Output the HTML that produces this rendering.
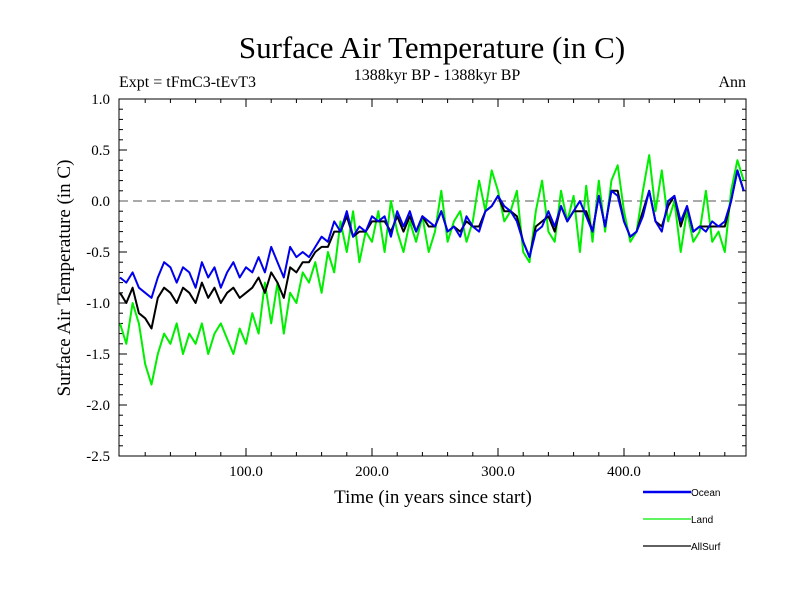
<!DOCTYPE html>
<html><head><meta charset="utf-8"><style>
body{margin:0;background:#fff;}
svg text{font-family:"Liberation Serif",serif;}
svg #legend text{font-family:"Liberation Sans",sans-serif;}
</style></head><body>
<svg id="chart" width="800" height="600" viewBox="0 0 800 600" xmlns="http://www.w3.org/2000/svg">
<rect width="800" height="600" fill="#fff"/>
<text x="432" y="58" font-size="31" text-anchor="middle">Surface Air Temperature (in C)</text>
<text x="119" y="87" font-size="16">Expt = tFmC3-tEvT3</text>
<text x="437" y="80" font-size="16" text-anchor="middle">1388kyr BP - 1388kyr BP</text>
<text x="746" y="87" font-size="16" text-anchor="end">Ann</text>
<text transform="translate(70,278) rotate(-90)" font-size="19" text-anchor="middle">Surface Air Temperature (in C)</text>
<text x="433" y="503" font-size="19" text-anchor="middle">Time (in years since start)</text>
<g id="axes"></g>
<g id="series"></g>
<rect x="119" y="99" width="627" height="357" fill="none" stroke="#000" stroke-width="1"/>
<g id="legend"></g>
</svg>
<script>
const years=[];for(let i=0;i<100;i++)years.push(i*5);
const ocean=[-0.75,-0.8,-0.7,-0.85,-0.9,-0.95,-0.75,-0.6,-0.65,-0.8,-0.65,-0.7,-0.85,-0.6,-0.75,-0.65,-0.85,-0.7,-0.6,-0.75,-0.65,-0.7,-0.55,-0.7,-0.45,-0.6,-0.75,-0.45,-0.55,-0.5,-0.55,-0.45,-0.35,-0.4,-0.2,-0.3,-0.1,-0.35,-0.25,-0.3,-0.15,-0.2,-0.15,-0.35,-0.1,-0.25,-0.1,-0.3,-0.15,-0.2,-0.25,-0.1,-0.3,-0.25,-0.35,-0.15,-0.25,-0.3,-0.1,-0.05,0.05,-0.05,-0.1,-0.2,-0.4,-0.55,-0.3,-0.25,-0.1,-0.25,-0.05,-0.2,-0.1,0.0,-0.15,-0.3,0.05,-0.25,0.1,0.05,-0.2,-0.35,-0.3,-0.15,0.1,-0.2,-0.3,0.0,0.05,-0.2,-0.05,-0.3,-0.25,-0.3,-0.2,-0.25,-0.2,0.0,0.3,0.1];
const land=[-1.2,-1.4,-1.0,-1.2,-1.6,-1.8,-1.5,-1.3,-1.4,-1.2,-1.5,-1.3,-1.4,-1.2,-1.5,-1.3,-1.2,-1.35,-1.5,-1.25,-1.4,-1.1,-1.3,-0.8,-1.2,-0.8,-1.3,-0.9,-1.0,-0.7,-0.8,-0.6,-0.9,-0.5,-0.7,-0.2,-0.5,-0.1,-0.6,-0.3,-0.4,-0.1,-0.5,0.0,-0.3,-0.5,-0.2,-0.4,-0.15,-0.5,-0.3,0.1,-0.4,-0.2,-0.1,-0.4,-0.2,0.2,-0.1,0.3,0.1,-0.2,-0.1,0.1,-0.5,-0.6,-0.1,0.2,-0.3,-0.4,0.1,-0.2,0.05,-0.5,0.15,-0.4,0.2,-0.3,0.2,0.35,-0.1,-0.4,-0.3,0.1,0.45,-0.1,0.3,-0.2,0.0,-0.5,-0.1,-0.4,-0.3,0.1,-0.4,-0.3,-0.5,0.1,0.4,0.2];
const allsurf=[-0.9,-1.0,-0.85,-1.1,-1.15,-1.25,-0.95,-0.85,-0.9,-1.0,-0.85,-0.9,-1.0,-0.8,-0.95,-0.85,-1.0,-0.9,-0.85,-0.95,-0.9,-0.85,-0.75,-0.9,-0.7,-0.8,-0.95,-0.65,-0.7,-0.6,-0.6,-0.5,-0.45,-0.45,-0.3,-0.3,-0.15,-0.35,-0.3,-0.3,-0.2,-0.2,-0.2,-0.3,-0.15,-0.3,-0.15,-0.3,-0.15,-0.25,-0.25,-0.1,-0.3,-0.25,-0.3,-0.2,-0.25,-0.25,-0.1,-0.05,0.05,-0.1,-0.1,-0.15,-0.4,-0.55,-0.25,-0.2,-0.15,-0.3,-0.05,-0.2,-0.1,-0.1,-0.1,-0.3,0.05,-0.25,0.1,0.1,-0.2,-0.35,-0.3,-0.1,0.1,-0.2,-0.25,-0.05,0.05,-0.25,-0.05,-0.3,-0.25,-0.25,-0.25,-0.25,-0.25,0.0,0.3,0.1];
const yTicks=[1.0,0.5,0.0,-0.5,-1.0,-1.5,-2.0,-2.5];
const xTicks=[100,200,300,400];
const NS="http://www.w3.org/2000/svg";
function sx(v){return 120+v*1.26;}
function sy(v){return 201-v*102;}
function mk(tag,attrs,parent){const e=document.createElementNS(NS,tag);for(const k in attrs)e.setAttribute(k,attrs[k]);parent.appendChild(e);return e;}
const axes=document.getElementById('axes');
for(let v=-2.5;v<=1.001;v+=0.1){const y=sy(v);const major=Math.abs(v*2-Math.round(v*2))<1e-6;const L=major?8:4;
const t=mk('line',{x1:119,x2:119+L,y1:y,y2:y,stroke:'#000'},axes);


const t2=mk('line',{x1:746,x2:746-L,y1:y,y2:y,stroke:'#000'},axes);

}
yTicks.forEach(v=>{const t=mk('text',{x:110,y:sy(v)+5,'font-size':15,'text-anchor':'end'},axes);t.textContent=v.toFixed(1);

});
for(let v=20;v<=480;v+=20){const x=sx(v);const major=v%100===0;const L=major?8:4;
const t=mk('line',{x1:x,x2:x,y1:456,y2:456-L,stroke:'#000'},axes);


const t2=mk('line',{x1:x,x2:x,y1:99,y2:99+L,stroke:'#000'},axes);

}
xTicks.forEach(v=>{const t=mk('text',{x:sx(v),y:476,'font-size':15,'text-anchor':'middle'},axes);t.textContent=v.toFixed(1);

});
const zl=mk('line',{x1:119,x2:746,y1:sy(0),y2:sy(0),stroke:'#555','stroke-dasharray':'9,5'},axes);


const ser=document.getElementById('series');
function draw(vals,color,name){const d=vals.map((v,i)=>(i?'L':'M')+sx(years[i]).toFixed(1)+','+sy(v).toFixed(1)).join('');
const p=mk('path',{d:d,fill:'none',stroke:color,'stroke-width':2,'stroke-linejoin':'round'},ser);

}
draw(land,'#00ee00','land-line');
draw(allsurf,'#000','allsurf-line');
draw(ocean,'#0000ee','ocean-line');
const leg=document.getElementById('legend');
[['Ocean','#0000ee',492,2.5],['Land','#00ee00',519,1.2],['AllSurf','#000',546,1.2]].forEach(([n,c,y,w])=>{
const l=mk('line',{x1:643,x2:691,y1:y,y2:y,stroke:c,'stroke-width':w},leg);


const t=mk('text',{x:691,y:y+4,'font-size':10},leg);t.textContent=n;

});
</script>
</body></html>
